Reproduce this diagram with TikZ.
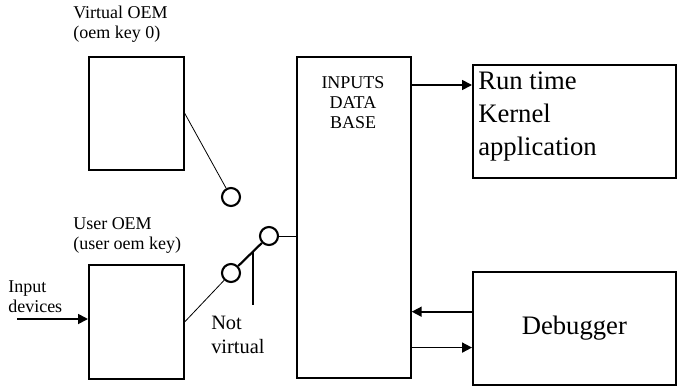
\documentclass[tikz,border=0pt]{standalone}
\usepackage{fontspec}
\setmainfont{Liberation Serif}
\usetikzlibrary{arrows.meta,positioning,calc}

\begin{document}
\begin{tikzpicture}[
          x=0.75pt, y=-0.75pt,
          box/.style={rectangle, draw, line width=1.3pt, inner sep=0pt, anchor=north west},
          small/.style={font=\fontsize{13.5}{15}\selectfont, align=left, inner sep=0pt},
          big/.style={font=\fontsize{20}{24.75}\selectfont, align=left, inner sep=0pt},
          contact/.style={circle, draw, line width=1.6pt, inner sep=0pt, minimum size=13.5pt},
          wire/.style={line width=0.6pt},
          arr/.style={line width=1.3pt, ->},
          >={Triangle[length=7.5pt,width=7.5pt]}
        ]
        \useasboundingbox (0,0) rectangle (677,385);
        % boxes
        \node[box, minimum width=71.25pt, minimum height=84.75pt] (voem) at (88,56) {};
        \node[box, minimum width=71.25pt, minimum height=85.5pt] (uoem) at (88,264) {};
        \node[box, minimum width=85.5pt, minimum height=240.75pt] (db) at (296,56) {};
        \node[box, minimum width=152.25pt, minimum height=84.75pt] (run) at (472,64) {};
        \node[box, minimum width=152.25pt, minimum height=84.75pt] (dbg) at (472,271) {};
        % texts (base = last line)
        \node[small, anchor=base west] (vlbl) at (73,39) {Virtual OEM\\(oem key 0)};
        \node[small, anchor=base west] (ulbl) at (73,249) {User OEM\\(user oem key)};
        \node[small, anchor=base west] (inlbl) at (8,312) {Input\\devices};
        \node[small, align=center, anchor=base] (dbtxt) at (353,128) {INPUTS\\DATA\\BASE};
        \node[big, anchor=base west] (runtxt) at (478,155) {Run time\\Kernel\\application};
        \node[big] (dbgtxt) at (dbg.center) {Debugger};
        \node[font=\fontsize{15.3}{18}\selectfont, align=left, inner sep=0pt, anchor=base west] (nv) at (211,353) {Not\\virtual};
        % switch
        \node[contact] (c1) at (231,197) {};
        \node[contact] (c2) at (231,273) {};
        \node[contact] (c3) at (269,236) {};
        \coordinate (lever) at ($(c2)!0.58!(c3)$);
        \draw[wire] (voem.east) -- (c1);
        \draw[wire] (uoem.east) -- (c2);
        \draw[line width=1.6pt] (c2) -- (c3);
        \draw[line width=1.6pt] (lever) -- ++(0,53);
        \draw[wire] (c3) -- (c3 -| db.west);
        % arrows
        \coordinate (src) at (17,319);
        \draw[arr] (src) -- (src -| uoem.west);
        \draw[arr] ([yshift=-15.75pt]run.north west -| db.east) -- ([yshift=-15.75pt]run.north west);
        \draw[arr] ([yshift=12.5pt]dbg.west) -- ([yshift=12.5pt]dbg.west -| db.east);
        \draw[arr] ([yshift=-14.4pt]dbg.west -| db.east) -- ([yshift=-14.4pt]dbg.west);
      \end{tikzpicture}
\end{document}
